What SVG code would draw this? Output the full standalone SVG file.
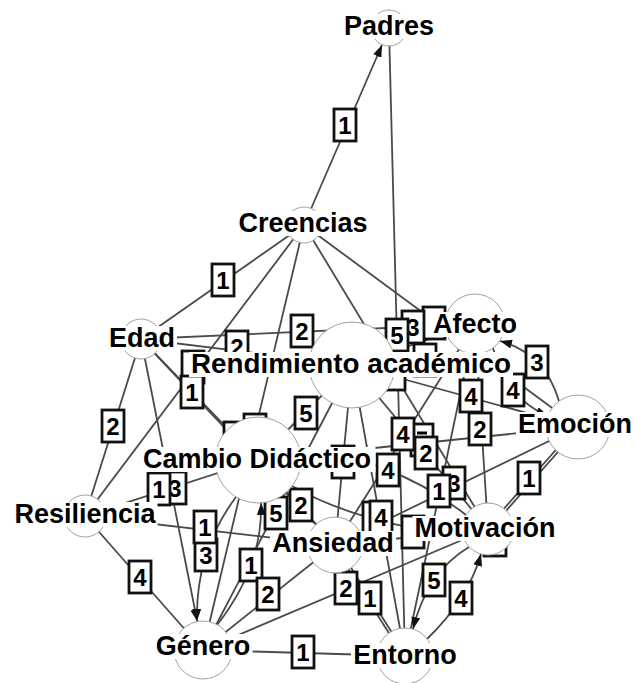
<svg xmlns="http://www.w3.org/2000/svg" width="634" height="683" viewBox="0 0 634 683">
<style>
.e{stroke:#4a4a4a;stroke-width:1.8;fill:none}
.lb rect{fill:#fff;stroke:#111;stroke-width:2.8}
.lb text{font-family:"Liberation Sans",Arial,sans-serif;font-weight:bold;font-size:24px;text-anchor:middle;fill:#000}
.nc{fill:#fff;stroke:#a0a0a0;stroke-width:1}
.nb{fill:#fff}
.nt{font-family:"Liberation Sans",Arial,sans-serif;font-weight:bold;font-size:27px;text-anchor:middle;fill:#000}
</style>
<defs>
<marker id="ah" markerUnits="userSpaceOnUse" markerWidth="12" markerHeight="9" refX="12" refY="4.5" orient="auto"><path d="M0,0 L12,4.5 L0,9 z" fill="#111"/></marker>
</defs>
<rect width="634" height="683" fill="#fff"/>
<g id="connectors">
<line class="e" x1="389" y1="28" x2="405" y2="656"/>
<line class="e" x1="304" y1="225" x2="141" y2="339"/>
<line class="e" x1="304" y1="225" x2="85" y2="516"/>
<line class="e" x1="304" y1="225" x2="203" y2="650"/>
<line class="e" x1="304" y1="225" x2="578" y2="427"/>
<line class="e" x1="304" y1="225" x2="488" y2="529"/>
<line class="e" x1="141" y1="339" x2="85" y2="516"/>
<line class="e" x1="141" y1="339" x2="258" y2="460"/>
<line class="e" x1="141" y1="339" x2="335" y2="545"/>
<line class="e" x1="141" y1="339" x2="352" y2="365"/>
<line class="e" x1="141" y1="339" x2="475" y2="324"/>
<line class="e" x1="85" y1="516" x2="258" y2="460"/>
<line class="e" x1="85" y1="516" x2="335" y2="545"/>
<line class="e" x1="85" y1="516" x2="203" y2="650"/>
<line class="e" x1="258" y1="460" x2="352" y2="365"/>
<line class="e" x1="258" y1="460" x2="335" y2="545"/>
<line class="e" x1="258" y1="460" x2="578" y2="427"/>
<line class="e" x1="203" y1="650" x2="352" y2="365"/>
<line class="e" x1="203" y1="650" x2="335" y2="545"/>
<line class="e" x1="203" y1="650" x2="488" y2="529"/>
<line class="e" x1="203" y1="650" x2="405" y2="656"/>
<line class="e" x1="336.2" y1="544.3" x2="406.2" y2="655.3"/>
<line class="e" x1="333.8" y1="545.8" x2="403.8" y2="656.8"/>
<line class="e" x1="335" y1="545" x2="578" y2="427"/>
<line class="e" x1="335" y1="545" x2="488" y2="529"/>
<line class="e" x1="352" y1="365" x2="578" y2="427"/>
<line class="e" x1="352" y1="365" x2="475" y2="324"/>
<line class="e" x1="352" y1="365" x2="488" y2="529"/>
<line class="e" x1="352" y1="365" x2="405" y2="656"/>
<line class="e" x1="352" y1="365" x2="335" y2="545"/>
<line class="e" x1="475" y1="324" x2="488" y2="529"/>
<line class="e" x1="475" y1="324" x2="335" y2="545"/>
<line class="e" x1="475" y1="324" x2="405" y2="656"/>
<line class="e" x1="579.1" y1="428" x2="489.1" y2="530"/>
<line class="e" x1="576.9" y1="426" x2="486.9" y2="528"/>
<path class="e" d="M300,450 Q393,457.5 466,515"/>
<path class="e" d="M292,486 Q356.5,523 463,536"/>
<line class="e" x1="304" y1="225" x2="382" y2="45" marker-end="url(#ah)"/>
<line class="e" x1="141" y1="339" x2="197.3" y2="621.5" marker-end="url(#ah)"/>
<path class="e" d="M236,497 Q195.5,551 197,621" marker-end="url(#ah)"/>
<path class="e" d="M217,625 Q263,566 261,503" marker-end="url(#ah)"/>
<path class="e" d="M469,547 Q427,572 413,629" marker-end="url(#ah)"/>
<path class="e" d="M427,639 Q468,599.5 481,554" marker-end="url(#ah)"/>
<path class="e" d="M559,401 Q544.5,353 500,341" marker-end="url(#ah)"/>
<path class="e" d="M493,348 Q505.5,398 548,416" marker-end="url(#ah)"/>
</g>
<g id="edge-labels" class="lb">
<g transform="translate(255,430)"><rect x="-11" y="-16" width="22" height="32"/></g>
<g transform="translate(235,438)"><rect x="-11" y="-16" width="22" height="32"/></g>
<g transform="translate(343,462)"><rect x="-11" y="-16" width="22" height="32"/></g>
<g transform="translate(394,374)"><rect x="-11" y="-16" width="22" height="32"/></g>
<g transform="translate(425,360)"><rect x="-11" y="-16" width="22" height="32"/></g>
<g transform="translate(495,540)"><rect x="-11" y="-16" width="22" height="32"/></g>
<g transform="translate(193,367)"><rect x="-11" y="-16" width="22" height="32"/></g>
<g transform="translate(237,347)"><rect x="-11" y="-16" width="22" height="32"/><text y="8.6">2</text></g>
<g transform="translate(374,518)"><rect x="-11" y="-16" width="22" height="32"/></g>
<g transform="translate(422,440)"><rect x="-11" y="-16" width="22" height="32"/><path d="M-5,-7 h10" stroke="#000" stroke-width="3"/></g>
<g transform="translate(434,323)"><rect x="-11" y="-16" width="22" height="32"/></g>
<g transform="translate(175,488)"><rect x="-11" y="-16" width="22" height="32"/><text y="8.6">3</text></g>
<g transform="translate(159,489)"><rect x="-11" y="-16" width="22" height="32"/><text y="8.6">1</text></g>
<g transform="translate(206,555)"><rect x="-11" y="-16" width="22" height="32"/><text y="8.6">3</text></g>
<g transform="translate(205,527)"><rect x="-11" y="-16" width="22" height="32"/><text y="8.6">1</text></g>
<g transform="translate(454,483)"><rect x="-11" y="-16" width="22" height="32"/><text y="8.6">3</text></g>
<g transform="translate(439,491)"><rect x="-11" y="-16" width="22" height="32"/><text y="8.6">1</text></g>
<g transform="translate(345,125)"><rect x="-11" y="-16" width="22" height="32"/><text y="8.6">1</text></g>
<g transform="translate(223,280)"><rect x="-11" y="-16" width="22" height="32"/><text y="8.6">1</text></g>
<g transform="translate(302,331)"><rect x="-11" y="-16" width="22" height="32"/><text y="8.6">2</text></g>
<g transform="translate(192,392)"><rect x="-11" y="-16" width="22" height="32"/><text y="8.6">1</text></g>
<g transform="translate(113,426)"><rect x="-11" y="-16" width="22" height="32"/><text y="8.6">2</text></g>
<g transform="translate(413,327)"><rect x="-11" y="-16" width="22" height="32"/><text y="8.6">3</text></g>
<g transform="translate(397,335)"><rect x="-11" y="-16" width="22" height="32"/><text y="8.6">5</text></g>
<g transform="translate(537,362)"><rect x="-11" y="-16" width="22" height="32"/><text y="8.6">3</text></g>
<g transform="translate(513,390)"><rect x="-11" y="-16" width="22" height="32"/><text y="8.6">4</text></g>
<g transform="translate(471,396)"><rect x="-11" y="-16" width="22" height="32"/><text y="8.6">4</text></g>
<g transform="translate(480,429)"><rect x="-11" y="-16" width="22" height="32"/><text y="8.6">2</text></g>
<g transform="translate(306,413)"><rect x="-11" y="-16" width="22" height="32"/><text y="8.6">5</text></g>
<g transform="translate(403,434)"><rect x="-11" y="-16" width="22" height="32"/><text y="8.6">4</text></g>
<g transform="translate(426,453)"><rect x="-11" y="-16" width="22" height="32"/><text y="8.6">2</text></g>
<g transform="translate(388,470)"><rect x="-11" y="-16" width="22" height="32"/><text y="8.6">4</text></g>
<g transform="translate(529,478)"><rect x="-11" y="-16" width="22" height="32"/><text y="8.6">1</text></g>
<g transform="translate(381,517)"><rect x="-11" y="-16" width="22" height="32"/><text y="8.6">4</text></g>
<g transform="translate(413,532)"><rect x="-11" y="-16" width="22" height="32"/></g>
<g transform="translate(301,505)"><rect x="-11" y="-16" width="22" height="32"/><text y="8.6">2</text></g>
<g transform="translate(276,513)"><rect x="-11" y="-16" width="22" height="32"/><text y="8.6">5</text></g>
<g transform="translate(251,565)"><rect x="-11" y="-16" width="22" height="32"/><text y="8.6">1</text></g>
<g transform="translate(268,594)"><rect x="-11" y="-16" width="22" height="32"/><text y="8.6">2</text></g>
<g transform="translate(140,577)"><rect x="-11" y="-16" width="22" height="32"/><text y="8.6">4</text></g>
<g transform="translate(346,588)"><rect x="-11" y="-16" width="22" height="32"/><text y="8.6">2</text></g>
<g transform="translate(370,598)"><rect x="-11" y="-16" width="22" height="32"/><text y="8.6">1</text></g>
<g transform="translate(434,580)"><rect x="-11" y="-16" width="22" height="32"/><text y="8.6">5</text></g>
<g transform="translate(461,598)"><rect x="-11" y="-16" width="22" height="32"/><text y="8.6">4</text></g>
<g transform="translate(303,652)"><rect x="-11" y="-16" width="22" height="32"/><text y="8.6">1</text></g>
</g>
<g id="node-padres"><circle class="nc" cx="389" cy="28" r="18"/><rect class="nb" x="342" y="14" width="94" height="25"/><text class="nt" x="389" y="35">Padres</text></g>
<g id="node-creencias"><circle class="nc" cx="304" cy="225" r="18"/><rect class="nb" x="236.5" y="211" width="133" height="25"/><text class="nt" x="303" y="232">Creencias</text></g>
<g id="node-edad"><circle class="nc" cx="141" cy="339" r="20"/><rect class="nb" x="107" y="326" width="70" height="25"/><text class="nt" x="142" y="347">Edad</text></g>
<g id="node-afecto"><circle class="nc" cx="475" cy="324" r="30"/><rect class="nb" x="431" y="312" width="88" height="25"/><text class="nt" x="475" y="333">Afecto</text></g>
<g id="node-emocion"><circle class="nc" cx="578" cy="427" r="32"/><rect class="nb" x="516" y="412" width="118" height="25"/><text class="nt" x="575" y="433">Emoción</text></g>
<g id="node-rendimiento"><circle class="nc" cx="352" cy="365" r="43"/><rect class="nb" x="189" y="352" width="324" height="25"/><text class="nt" x="351" y="373" textLength="320" lengthAdjust="spacingAndGlyphs">Rendimiento académico</text></g>
<g id="node-cambio"><circle class="nc" cx="258" cy="460" r="43"/><rect class="nb" x="138.5" y="447" width="237" height="25"/><text class="nt" x="257" y="468">Cambio Didáctico</text></g>
<g id="node-resiliencia"><circle class="nc" cx="85" cy="516" r="21"/><rect class="nb" x="12.5" y="502" width="145" height="25"/><text class="nt" x="85" y="523">Resiliencia</text></g>
<g id="node-ansiedad"><circle class="nc" cx="335" cy="545" r="28"/><rect class="nb" x="270" y="531" width="126" height="25"/><text class="nt" x="333" y="552">Ansiedad</text></g>
<g id="node-motivacion"><circle class="nc" cx="488" cy="529" r="26"/><rect class="nb" x="412.5" y="516" width="145" height="25"/><text class="nt" x="485" y="537">Motivación</text></g>
<g id="node-genero"><circle class="nc" cx="203" cy="650" r="29"/><rect class="nb" x="154" y="634" width="98.5" height="25"/><text class="nt" x="203" y="655">Género</text></g>
<g id="node-entorno"><circle class="nc" cx="405" cy="656" r="28"/><rect class="nb" x="351" y="643" width="107.5" height="25"/><text class="nt" x="405" y="664">Entorno</text></g>
</svg>
